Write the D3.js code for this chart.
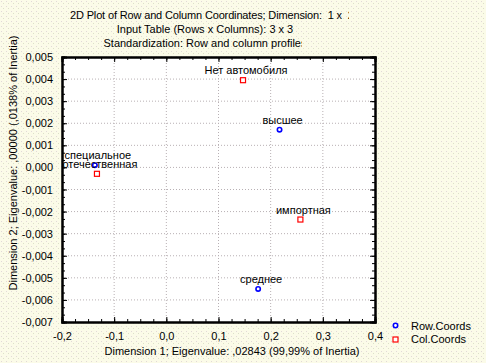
<!DOCTYPE html>
<html>
<head>
<meta charset="utf-8">
<script src="https://cdn.jsdelivr.net/npm/d3@7"></script>
<style>
  body { margin: 0; }
  svg { display: block; font-family: "Liberation Sans", Arial, sans-serif; }
  text.title { white-space: pre; }
</style>
</head>
<body>
<div id="chart"></div>
<script>
// data
var rowLabels = ["высшее", "среднее", "специальное"];
var rowX = [0.217, 0.176, -0.137];
var rowY = [0.00171, -0.0055, 0.0001];

var colLabels = ["Нет автомобиля", "импортная", "отечественная"];
var colX = [0.147, 0.257, -0.133];
var colY = [0.00395, -0.00236, -0.00029];

var xTicks = [-0.2, -0.1, 0, 0.1, 0.2, 0.3, 0.4];
var yTicks = [0.005, 0.004, 0.003, 0.002, 0.001, 0, -0.001, -0.002, -0.003, -0.004, -0.005, -0.006, -0.007];

var titleLines = ["2D Plot of Row and Column Coordinates; Dimension:  1 x  2",
                  "Input Table (Rows x Columns): 3 x 3",
                  "Standardization: Row and column profiles"];

var W = 486, H = 363;
var margin = {top: 57, right: 111, bottom: 41, left: 62};
var width = W - margin.left - margin.right,
    height = H - margin.top - margin.bottom;

var svg = d3.select("#chart").append("svg")
    .attr("width", W)
    .attr("height", H);

// textured background
var defs = svg.append("defs");
var pat = defs.append("pattern")
    .attr("id", "bg").attr("width", 5).attr("height", 5)
    .attr("patternUnits", "userSpaceOnUse");
pat.append("rect").attr("width", 5).attr("height", 5).attr("fill", "#fbfbe8");
pat.append("rect").attr("x", 1).attr("y", 1).attr("width", 1).attr("height", 1).attr("fill", "#e2d8d8");
pat.append("rect").attr("x", 3).attr("y", 3).attr("width", 1).attr("height", 1).attr("fill", "#dde0c8");
defs.append("clipPath").attr("id", "titleClip")
  .append("rect").attr("x", 0).attr("y", 0).attr("width", 349).attr("height", 60);
defs.append("clipPath").attr("id", "subClip")
  .append("rect").attr("x", 0).attr("y", 0).attr("width", 302).attr("height", 60);

svg.append("rect").attr("width", W).attr("height", H).attr("fill", "url(#bg)");

// titles
svg.selectAll("text.title")
  .data(titleLines)
  .enter().append("text")
    .attr("class", "title")
    .attr("clip-path", function(d, i) { return i == 0 ? "url(#titleClip)" : (i == 2 ? "url(#subClip)" : null); })
    .attr("x", function(d, i) { return i == 0 ? 70 : 205; })
    .attr("y", function(d, i) { return 19 + i * 14; })
    .attr("text-anchor", function(d, i) { return i == 0 ? "start" : "middle"; })
    .attr("font-size", 11)
    .attr("letter-spacing", function(d, i) { return i == 0 ? -0.15 : 0; })
    .text(function(d) { return d; });

var g = svg.append("g")
    .attr("transform", "translate(" + margin.left + "," + margin.top + ")");

var x = d3.scaleLinear().domain([-0.2, 0.4]).range([0, width]);
var y = d3.scaleLinear().domain([-0.007, 0.005]).range([height, 0]);

g.append("rect").attr("width", width).attr("height", height).attr("fill", "#fff");

// grid
g.selectAll("line.gx")
  .data(xTicks.slice(1, -1))
  .enter().append("line")
    .attr("x1", function(d) { return x(d); }).attr("x2", function(d) { return x(d); })
    .attr("y1", 0).attr("y2", height)
    .attr("stroke", "#b8b0b4").attr("stroke-dasharray", "1,2");
g.selectAll("line.gy")
  .data(yTicks.slice(1, -1))
  .enter().append("line")
    .attr("y1", function(d) { return y(d); }).attr("y2", function(d) { return y(d); })
    .attr("x1", 0).attr("x2", width)
    .attr("stroke", "#b8b0b4").attr("stroke-dasharray", "1,2");

var fmt = function(p) {
  return function(d) { return d3.format("." + p + "f")(d).replace(".", ",").replace("−", "-"); };
};

// minor ticks
var xMinor = d3.range(-0.2, 0.4001, 0.025);
var yMinor = d3.range(-0.007, 0.00501, 0.001 / 3);

// bottom / left axes with labels
g.append("g").attr("transform", "translate(0," + height + ")")
  .call(d3.axisBottom(x).tickValues(xTicks).tickFormat(fmt(1)).tickSize(-5).tickPadding(10));
g.append("g")
  .call(d3.axisLeft(y).tickValues(yTicks).tickFormat(fmt(3)).tickSize(-5).tickPadding(9));
// top / right axes ticks only
g.append("g")
  .call(d3.axisTop(x).tickValues(xTicks).tickFormat("").tickSize(-5));
g.append("g").attr("transform", "translate(" + width + ",0)")
  .call(d3.axisRight(y).tickValues(yTicks).tickFormat("").tickSize(-5));

g.append("g").attr("transform", "translate(0," + height + ")")
  .call(d3.axisBottom(x).tickValues(xMinor).tickFormat("").tickSize(-3));
g.append("g")
  .call(d3.axisTop(x).tickValues(xMinor).tickFormat("").tickSize(-3));
g.append("g")
  .call(d3.axisLeft(y).tickValues(yMinor).tickFormat("").tickSize(-3));
g.append("g").attr("transform", "translate(" + width + ",0)")
  .call(d3.axisRight(y).tickValues(yMinor).tickFormat("").tickSize(-3));

g.selectAll(".domain").attr("stroke", "#000").attr("stroke-width", 2);
g.selectAll(".tick line").attr("stroke", "#000");
g.selectAll(".tick text").attr("font-size", 11).attr("fill", "#000")
  .attr("font-family", "Liberation Sans, Arial, sans-serif");

// axis titles
svg.append("text")
  .attr("x", 232).attr("y", 355)
  .attr("text-anchor", "middle").attr("font-size", 11)
  .text("Dimension 1; Eigenvalue: ,02843 (99,99% of Inertia)");
svg.append("text")
  .attr("transform", "translate(17,163) rotate(-90)")
  .attr("text-anchor", "middle").attr("font-size", 11)
  .text("Dimension 2; Eigenvalue: ,00000 (,0138% of Inertia)");

// points
var rows = rowLabels.map(function(l, i) { return {label: l, x: rowX[i], y: rowY[i]}; });
var cols = colLabels.map(function(l, i) { return {label: l, x: colX[i], y: colY[i]}; });

g.selectAll("circle.row")
  .data(rows)
  .enter().append("circle")
    .attr("cx", function(d) { return x(d.x); })
    .attr("cy", function(d) { return y(d.y); })
    .attr("r", 2.2)
    .attr("fill", "#fff").attr("stroke", "#0000ff").attr("stroke-width", 1.6);

g.selectAll("rect.col")
  .data(cols)
  .enter().append("rect")
    .attr("x", function(d) { return x(d.x) - 2.5; })
    .attr("y", function(d) { return y(d.y) - 2.5; })
    .attr("width", 5).attr("height", 5)
    .attr("fill", "#fff").attr("stroke", "#ff0000").attr("stroke-width", 1.2);

g.selectAll("text.lab")
  .data(rows.concat(cols))
  .enter().append("text")
    .attr("x", function(d) { return x(d.x) + 3; })
    .attr("y", function(d) { return y(d.y) - 6; })
    .attr("text-anchor", "middle").attr("font-size", 11)
    .text(function(d) { return d.label; });

// legend
var leg = svg.append("g");
leg.append("circle").attr("cx", 395.5).attr("cy", 325.5).attr("r", 2.2)
  .attr("fill", "#fff").attr("stroke", "#0000ff").attr("stroke-width", 1.6);
leg.append("rect").attr("x", 393).attr("y", 337).attr("width", 5).attr("height", 5)
  .attr("fill", "#fff").attr("stroke", "#ff0000").attr("stroke-width", 1.2);
leg.append("text").attr("x", 411).attr("y", 329.5).attr("font-size", 11).text("Row.Coords");
leg.append("text").attr("x", 411).attr("y", 343).attr("font-size", 11).text("Col.Coords");
</script>
</body>
</html>
